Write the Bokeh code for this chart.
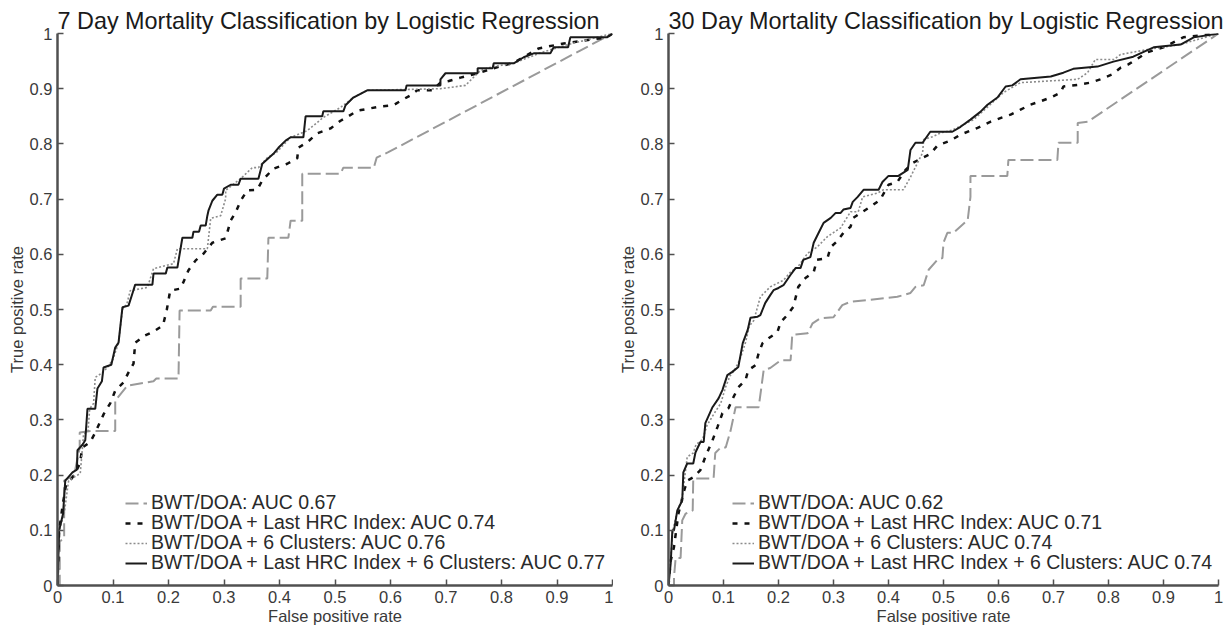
from bokeh.plotting import figure
from bokeh.layouts import row
from bokeh.models import FixedTicker, Legend, LegendItem
from bokeh.embed import file_html
from bokeh.resources import INLINE

# ---------------- data ----------------
tick_vals = [0, 0.1, 0.2, 0.3, 0.4, 0.5, 0.6, 0.7, 0.8, 0.9, 1]
tick_labels = ["0", "0.1", "0.2", "0.3", "0.4", "0.5", "0.6", "0.7", "0.8", "0.9", "1"]

titles = ["7 Day Mortality Classification by Logistic Regression",
          "30 Day Mortality Classification by Logistic Regression"]

labels_7 = ["BWT/DOA: AUC 0.67",
            "BWT/DOA + Last HRC Index: AUC 0.74",
            "BWT/DOA + 6 Clusters: AUC 0.76",
            "BWT/DOA + Last HRC Index + 6 Clusters: AUC 0.77"]
labels_30 = ["BWT/DOA: AUC 0.62",
             "BWT/DOA + Last HRC Index: AUC 0.71",
             "BWT/DOA + 6 Clusters: AUC 0.74",
             "BWT/DOA + Last HRC Index + 6 Clusters: AUC 0.74"]

# ROC points (false positive rate, true positive rate), 7 day
roc7_base = [(0, 0), (0.004, 0), (0.004, 0.08), (0.012, 0.085), (0.012, 0.19), (0.03, 0.2), (0.04, 0.25),
             (0.04, 0.277), (0.06, 0.28), (0.104, 0.28), (0.104, 0.335), (0.126, 0.362), (0.173, 0.37),
             (0.178, 0.375), (0.218, 0.375), (0.22, 0.498), (0.276, 0.498), (0.28, 0.505), (0.33, 0.505),
             (0.33, 0.556), (0.378, 0.556), (0.38, 0.63), (0.416, 0.63), (0.42, 0.661), (0.441, 0.661),
             (0.441, 0.746), (0.51, 0.746), (0.515, 0.757), (0.57, 0.757), (0.575, 0.775), (0.596, 0.785),
             (1, 1)]
roc7_hrc = [(0, 0), (0.003, 0.1), (0.01, 0.15), (0.015, 0.18), (0.03, 0.2), (0.04, 0.22), (0.045, 0.25),
            (0.059, 0.26), (0.068, 0.277), (0.083, 0.31), (0.095, 0.33), (0.104, 0.353), (0.119, 0.368),
            (0.128, 0.386), (0.137, 0.402), (0.14, 0.44), (0.158, 0.453), (0.173, 0.46), (0.19, 0.471),
            (0.197, 0.5), (0.203, 0.534), (0.222, 0.538), (0.236, 0.571), (0.249, 0.589), (0.263, 0.601),
            (0.279, 0.621), (0.303, 0.629), (0.312, 0.661), (0.321, 0.676), (0.33, 0.697), (0.342, 0.716),
            (0.36, 0.717), (0.369, 0.734), (0.389, 0.755), (0.414, 0.764), (0.432, 0.774), (0.434, 0.793),
            (0.45, 0.803), (0.468, 0.819), (0.492, 0.828), (0.51, 0.842), (0.524, 0.85), (0.54, 0.86),
            (0.582, 0.868), (0.605, 0.87), (0.62, 0.879), (0.636, 0.888), (0.648, 0.897), (0.675, 0.897),
            (0.69, 0.911), (0.705, 0.914), (0.726, 0.92), (0.757, 0.928), (0.786, 0.937), (0.822, 0.947),
            (0.867, 0.973), (0.912, 0.982), (0.99, 0.993), (1, 1)]
roc7_clu = [(0, 0), (0.003, 0.1), (0.012, 0.13), (0.02, 0.19), (0.041, 0.203), (0.045, 0.25), (0.047, 0.275),
            (0.055, 0.28), (0.058, 0.32), (0.065, 0.33), (0.068, 0.377), (0.08, 0.385), (0.09, 0.395),
            (0.1, 0.41), (0.11, 0.44), (0.117, 0.5), (0.125, 0.51), (0.131, 0.534), (0.162, 0.54),
            (0.173, 0.574), (0.209, 0.583), (0.216, 0.61), (0.27, 0.61), (0.276, 0.665), (0.294, 0.67),
            (0.303, 0.701), (0.303, 0.716), (0.33, 0.737), (0.351, 0.757), (0.362, 0.757), (0.378, 0.775),
            (0.395, 0.785), (0.42, 0.812), (0.45, 0.824), (0.479, 0.848), (0.51, 0.866), (0.533, 0.884),
            (0.558, 0.897), (0.69, 0.9), (0.735, 0.906), (0.762, 0.933), (0.784, 0.94), (0.822, 0.946),
            (0.87, 0.965), (0.92, 0.98), (0.96, 0.99), (1, 1)]
roc7_both = [(0, 0), (0.003, 0.1), (0.01, 0.13), (0.014, 0.19), (0.027, 0.205), (0.035, 0.21), (0.036, 0.245),
             (0.045, 0.255), (0.05, 0.263), (0.054, 0.32), (0.068, 0.32), (0.072, 0.357), (0.08, 0.37),
             (0.083, 0.395), (0.097, 0.4), (0.104, 0.431), (0.11, 0.44), (0.117, 0.504), (0.128, 0.507),
             (0.135, 0.529), (0.14, 0.545), (0.171, 0.545), (0.173, 0.565), (0.195, 0.565), (0.198, 0.576),
             (0.216, 0.576), (0.225, 0.63), (0.243, 0.63), (0.245, 0.641), (0.255, 0.641), (0.258, 0.652),
             (0.267, 0.652), (0.27, 0.67), (0.272, 0.679), (0.279, 0.697), (0.288, 0.708), (0.297, 0.708),
             (0.3, 0.719), (0.312, 0.726), (0.326, 0.726), (0.33, 0.737), (0.362, 0.737), (0.369, 0.764),
             (0.38, 0.774), (0.389, 0.782), (0.398, 0.793), (0.411, 0.806), (0.42, 0.812), (0.443, 0.812),
             (0.447, 0.85), (0.477, 0.85), (0.479, 0.859), (0.515, 0.859), (0.519, 0.87), (0.533, 0.884),
             (0.558, 0.897), (0.627, 0.897), (0.629, 0.906), (0.69, 0.906), (0.69, 0.917), (0.699, 0.928),
             (0.757, 0.928), (0.757, 0.937), (0.784, 0.937), (0.786, 0.946), (0.822, 0.946), (0.84, 0.957),
             (0.858, 0.964), (0.888, 0.964), (0.894, 0.975), (0.92, 0.975), (0.924, 0.993), (0.99, 0.993),
             (1, 1)]

# ROC points, 30 day
roc30_base = [(0, 0), (0.01, 0), (0.01, 0.015), (0.013, 0.05), (0.022, 0.05), (0.025, 0.118), (0.031, 0.13),
              (0.044, 0.136), (0.045, 0.194), (0.082, 0.194), (0.085, 0.24), (0.095, 0.25), (0.104, 0.25),
              (0.113, 0.281), (0.122, 0.323), (0.164, 0.323), (0.173, 0.39), (0.185, 0.394), (0.204, 0.408),
              (0.222, 0.408), (0.225, 0.454), (0.253, 0.457), (0.262, 0.475), (0.276, 0.484), (0.3, 0.486),
              (0.316, 0.508), (0.331, 0.514), (0.362, 0.517), (0.416, 0.523), (0.44, 0.53), (0.449, 0.541),
              (0.464, 0.544), (0.473, 0.572), (0.489, 0.59), (0.498, 0.593), (0.5, 0.621), (0.507, 0.639),
              (0.518, 0.639), (0.544, 0.662), (0.549, 0.704), (0.549, 0.742), (0.616, 0.742), (0.618, 0.771),
              (0.707, 0.771), (0.709, 0.802), (0.744, 0.802), (0.744, 0.838), (0.762, 0.84), (1, 1)]
roc30_hrc = [(0, 0), (0.004, 0.045), (0.01, 0.07), (0.018, 0.13), (0.027, 0.167), (0.034, 0.19), (0.045, 0.196),
             (0.058, 0.209), (0.067, 0.233), (0.08, 0.263), (0.089, 0.287), (0.098, 0.312), (0.109, 0.321),
             (0.118, 0.341), (0.127, 0.359), (0.14, 0.372), (0.145, 0.39), (0.158, 0.399), (0.164, 0.421),
             (0.171, 0.439), (0.182, 0.448), (0.198, 0.459), (0.204, 0.477), (0.216, 0.49), (0.227, 0.505),
             (0.236, 0.541), (0.249, 0.557), (0.264, 0.568), (0.27, 0.59), (0.289, 0.593), (0.295, 0.613),
             (0.307, 0.624), (0.318, 0.639), (0.331, 0.65), (0.336, 0.666), (0.353, 0.677), (0.367, 0.686),
             (0.385, 0.699), (0.4, 0.726), (0.416, 0.731), (0.431, 0.753), (0.445, 0.766), (0.458, 0.773),
             (0.476, 0.782), (0.489, 0.797), (0.513, 0.806), (0.531, 0.817), (0.562, 0.829), (0.585, 0.84),
             (0.607, 0.848), (0.622, 0.853), (0.64, 0.862), (0.658, 0.871), (0.676, 0.877), (0.695, 0.884),
             (0.713, 0.893), (0.718, 0.904), (0.744, 0.907), (0.767, 0.911), (0.785, 0.917), (0.807, 0.926),
             (0.822, 0.938), (0.836, 0.944), (0.871, 0.966), (0.9, 0.975), (0.936, 0.993), (1, 1)]
roc30_clu = [(0, 0), (0.004, 0.05), (0.008, 0.1), (0.015, 0.13), (0.025, 0.16), (0.03, 0.2), (0.034, 0.233),
             (0.045, 0.24), (0.05, 0.255), (0.062, 0.265), (0.07, 0.29), (0.082, 0.31), (0.095, 0.33),
             (0.104, 0.36), (0.112, 0.38), (0.12, 0.39), (0.13, 0.41), (0.14, 0.44), (0.147, 0.47),
             (0.155, 0.48), (0.167, 0.523), (0.185, 0.541), (0.209, 0.553), (0.222, 0.568), (0.235, 0.577),
             (0.253, 0.602), (0.27, 0.613), (0.289, 0.632), (0.313, 0.648), (0.331, 0.677), (0.345, 0.677),
             (0.353, 0.704), (0.38, 0.711), (0.391, 0.717), (0.427, 0.717), (0.44, 0.74), (0.453, 0.766),
             (0.462, 0.784), (0.464, 0.808), (0.48, 0.813), (0.495, 0.82), (0.516, 0.825), (0.555, 0.844),
             (0.609, 0.893), (0.64, 0.911), (0.744, 0.917), (0.762, 0.929), (0.776, 0.953), (0.81, 0.953),
             (0.822, 0.962), (0.871, 0.971), (0.93, 0.98), (1, 1)]
roc30_both = [(0, 0), (0.004, 0.04), (0.007, 0.1), (0.01, 0.1), (0.016, 0.136), (0.025, 0.154), (0.027, 0.205),
              (0.034, 0.221), (0.045, 0.221), (0.049, 0.241), (0.058, 0.26), (0.064, 0.26), (0.067, 0.294),
              (0.08, 0.323), (0.091, 0.339), (0.098, 0.354), (0.107, 0.381), (0.116, 0.387), (0.127, 0.396),
              (0.135, 0.439), (0.144, 0.463), (0.149, 0.485), (0.162, 0.487), (0.167, 0.49), (0.176, 0.512),
              (0.185, 0.526), (0.191, 0.535), (0.2, 0.539), (0.209, 0.544), (0.222, 0.563), (0.231, 0.575),
              (0.24, 0.575), (0.245, 0.59), (0.258, 0.595), (0.264, 0.621), (0.273, 0.639), (0.282, 0.657),
              (0.295, 0.666), (0.304, 0.675), (0.313, 0.675), (0.318, 0.681), (0.331, 0.684), (0.335, 0.695),
              (0.344, 0.704), (0.355, 0.717), (0.382, 0.717), (0.389, 0.731), (0.4, 0.742), (0.418, 0.742),
              (0.435, 0.753), (0.44, 0.789), (0.449, 0.802), (0.462, 0.802), (0.476, 0.822), (0.516, 0.822),
              (0.531, 0.831), (0.549, 0.844), (0.567, 0.858), (0.58, 0.871), (0.598, 0.884), (0.613, 0.904),
              (0.625, 0.906), (0.64, 0.917), (0.695, 0.922), (0.718, 0.929), (0.736, 0.936), (0.78, 0.94),
              (0.809, 0.949), (0.845, 0.958), (0.882, 0.975), (0.931, 0.98), (0.955, 0.993), (1, 1)]

# ---------------- styling ----------------
FONT = "Liberation Sans"
styles = [
    dict(line_color="#9a9a9a", line_width=2, line_dash="13 5"),
    dict(line_color="#111111", line_width=2.5, line_dash="5 7"),
    dict(line_color="#8c8c8c", line_width=1.6, line_dash="2 2"),
    dict(line_color="#1a1a1a", line_width=2),
]
legend_rows_y = [71, 51, 31, 11]


def make_panel(title, curves, labels, width, bl, br, legend_x):
    p = figure(width=width, height=630, x_range=(0, 1), y_range=(0, 1),
               output_backend="svg", toolbar_location=None,
               min_border_left=bl, min_border_right=br,
               min_border_top=33, min_border_bottom=45)
    p.title.text = title
    p.title.text_font = FONT
    p.title.text_font_size = "23.4px"
    p.title.text_font_style = "normal"
    p.title.text_color = "#1a1a1a"
    p.title.align = "left"
    p.title.standoff = 0
    p.title.offset = 0
    p.grid.visible = False
    p.outline_line_color = None
    p.background_fill_color = "white"
    p.border_fill_color = "white"

    for ax in (p.xaxis[0], p.yaxis[0]):
        ax.ticker = FixedTicker(ticks=tick_vals)
        ax.major_label_overrides = dict(zip(tick_vals, tick_labels))
        ax.major_tick_in = 6
        ax.major_tick_out = 0
        ax.minor_tick_line_color = None
        ax.axis_line_color = "#505050"
        ax.axis_line_width = 2.5
        ax.major_tick_line_color = "#505050"
        ax.major_tick_line_width = 1.5
        ax.major_label_text_font = FONT
        ax.major_label_text_font_size = "16.5px"
        ax.major_label_text_color = "#3a3a3a"
        ax.axis_label_text_font = FONT
        ax.axis_label_text_font_size = "16.5px"
        ax.axis_label_text_font_style = "normal"
        ax.axis_label_text_color = "#3a3a3a"
    p.xaxis.axis_label = "False positive rate"
    p.yaxis.axis_label = "True positive rate"
    p.xaxis.major_label_standoff = 5
    p.xaxis.axis_label_standoff = 1
    p.yaxis.major_label_standoff = 5
    p.yaxis.axis_label_standoff = 1

    for pts, lab, st, ly in zip(curves, labels, styles, legend_rows_y):
        xs = [a for a, b in pts]
        ys = [b for a, b in pts]
        r = p.line(xs, ys, **st)
        leg = Legend(items=[LegendItem(label=lab, renderers=[r])], location=(legend_x, ly))
        leg.label_text_font = FONT
        leg.label_text_font_size = "19.5px"
        leg.label_text_color = "#2a2a2a"
        leg.label_height = 20
        leg.glyph_height = 20
        leg.glyph_width = 22
        leg.label_standoff = 4
        leg.spacing = 0
        leg.padding = 0
        leg.margin = 0
        leg.border_line_alpha = 0
        leg.background_fill_alpha = 0
        p.add_layout(leg)
    return p


p1 = make_panel(titles[0], [roc7_base, roc7_hrc, roc7_clu, roc7_both], labels_7, 613, 57, 1, 68)
p2 = make_panel(titles[1], [roc30_base, roc30_hrc, roc30_clu, roc30_both], labels_30, 614, 55, 9, 64)

layout = row(p1, p2)
open("out.html", "w").write(file_html(layout, INLINE))
